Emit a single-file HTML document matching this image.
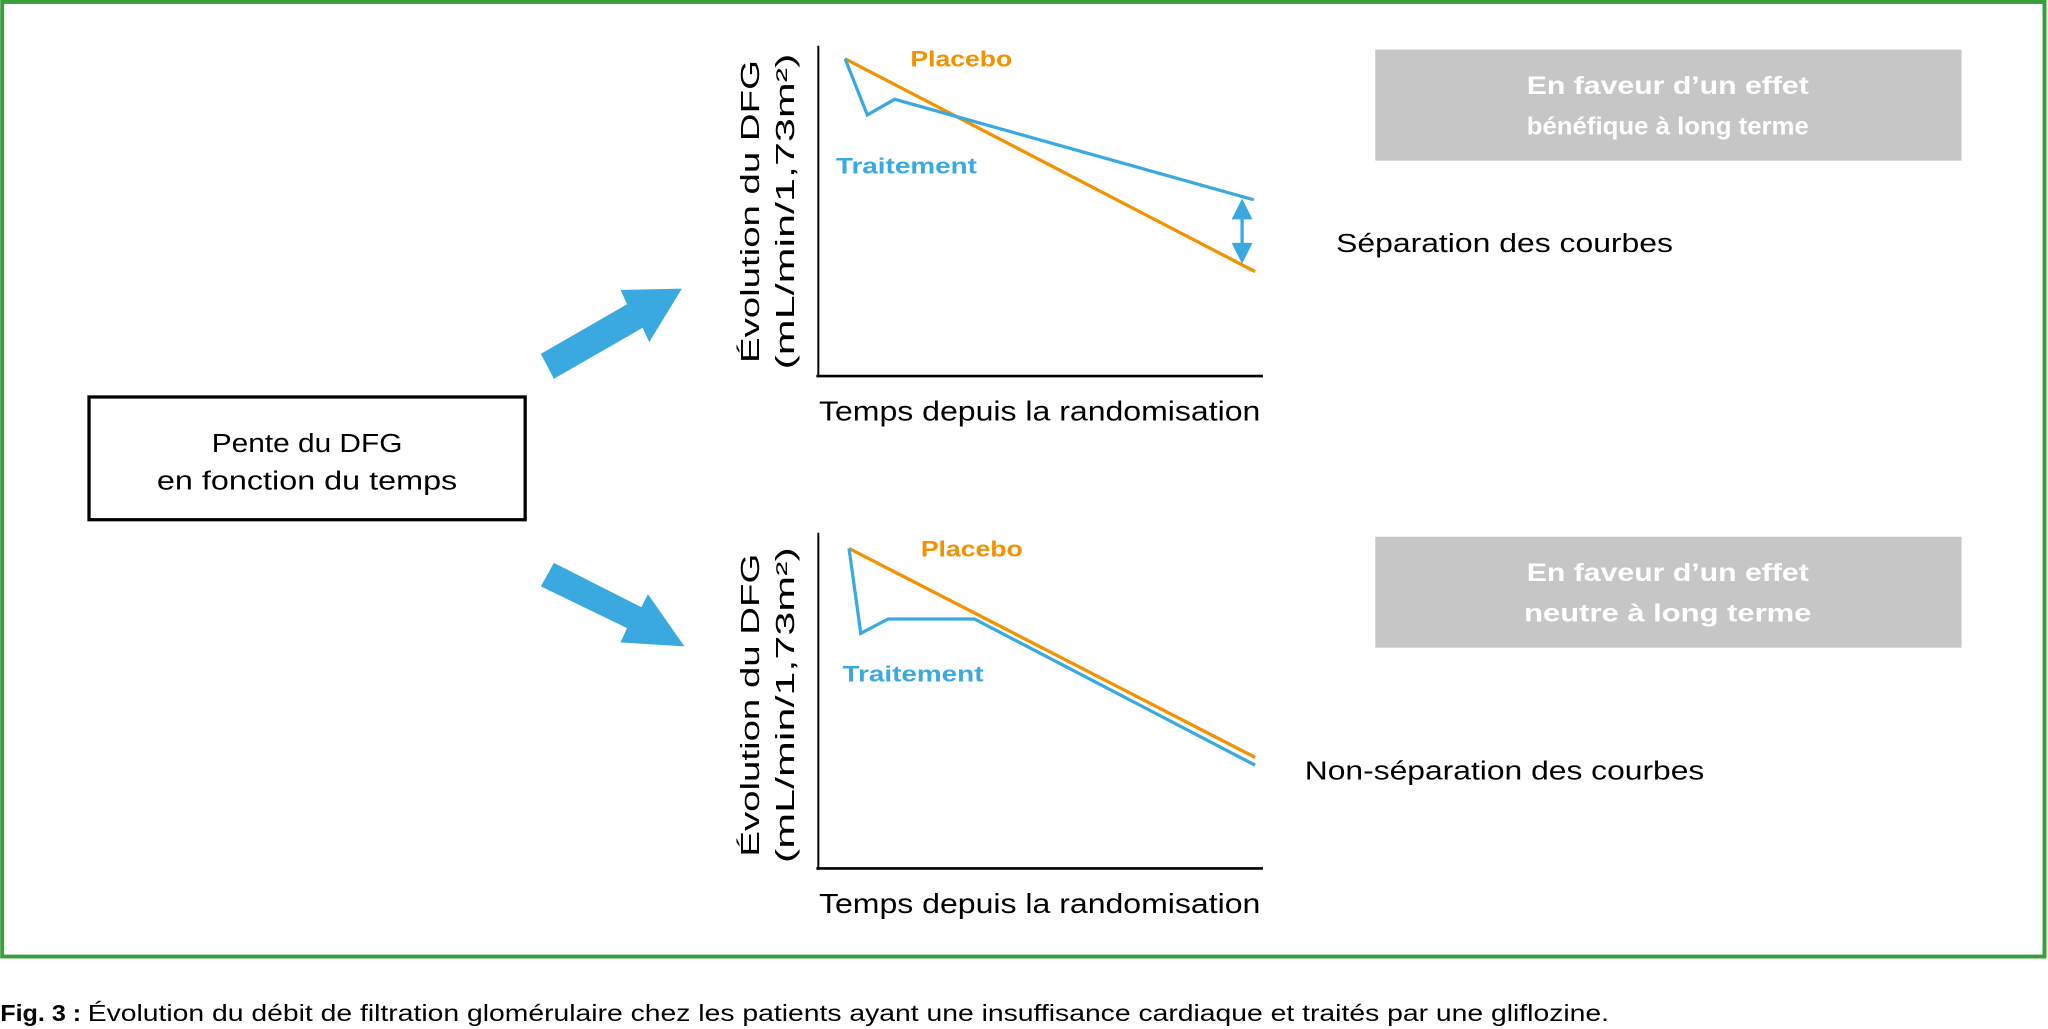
<!DOCTYPE html>
<html><head><meta charset="utf-8"><style>
html,body{margin:0;padding:0;background:#fff;}
svg{display:block;}
text{font-family:"Liberation Sans Narrow","Liberation Sans",sans-serif;}
</style></head><body>
<svg width="2048" height="1029" viewBox="0 0 1568 788" xmlns="http://www.w3.org/2000/svg">
<rect x="1.5" y="1.5" width="1564" height="731" fill="none" stroke="#3a9e3a" stroke-width="3"/>
<rect x="68" y="304" width="334" height="94" fill="#fff" stroke="#000" stroke-width="2.5"/>
<text x="235" y="346" font-size="20" text-anchor="middle" textLength="146" lengthAdjust="spacingAndGlyphs">Pente du DFG</text>
<text x="235" y="375" font-size="20" text-anchor="middle" textLength="230" lengthAdjust="spacingAndGlyphs">en fonction du temps</text>
<polygon points="414,271 480,233 475,222 522,221 497,262 492,251 424,290" fill="#3aa9e0"/>
<polygon points="414,449 480,481 475,492 524,495 496,455 491,465 424,431" fill="#3aa9e0"/>
<line x1="626.5" y1="35" x2="626.5" y2="289" stroke="#000" stroke-width="1.5"/>
<line x1="625" y1="288" x2="967" y2="288" stroke="#000" stroke-width="2"/>
<polyline points="647,45 961,208" fill="none" stroke="#f39200" stroke-width="2.5"/>
<polyline points="647,45 664,88 685,76 960,153" fill="none" stroke="#3aa9e0" stroke-width="2.5"/>
<line x1="951" y1="162" x2="951" y2="193" stroke="#3aa9e0" stroke-width="2.5"/>
<polygon points="943,168 951,152 959,168" fill="#3aa9e0"/>
<polygon points="943,186 951,202 959,186" fill="#3aa9e0"/>
<text x="697" y="51" font-size="17" font-weight="bold" fill="#f39200" textLength="78" lengthAdjust="spacingAndGlyphs">Placebo</text>
<text x="640" y="133" font-size="17" font-weight="bold" fill="#3aa9e0" textLength="108" lengthAdjust="spacingAndGlyphs">Traitement</text>
<text x="796" y="322" font-size="21" text-anchor="middle" textLength="338" lengthAdjust="spacingAndGlyphs">Temps depuis la randomisation</text>
<text transform="translate(581,162) rotate(-90)" font-size="20" text-anchor="middle" font-family="Liberation Sans" textLength="232" lengthAdjust="spacingAndGlyphs">Évolution du DFG</text>
<text transform="translate(608,162) rotate(-90)" font-size="20" text-anchor="middle" font-family="Liberation Sans" textLength="242" lengthAdjust="spacingAndGlyphs">(mL/min/1,73m²)</text>
<rect x="1053" y="38" width="449" height="85" fill="#c6c6c6"/>
<text x="1277" y="72" font-size="19" font-weight="bold" fill="#fff" text-anchor="middle" textLength="216" lengthAdjust="spacingAndGlyphs">En faveur d’un effet</text>
<text x="1277" y="103" font-size="19" font-weight="bold" fill="#fff" text-anchor="middle" textLength="216" lengthAdjust="spacingAndGlyphs">bénéfique à long terme</text>
<text x="1023" y="193" font-size="20" textLength="258" lengthAdjust="spacingAndGlyphs">Séparation des courbes</text>
<line x1="626.5" y1="408" x2="626.5" y2="666" stroke="#000" stroke-width="1.5"/>
<line x1="625" y1="665" x2="967" y2="665" stroke="#000" stroke-width="2"/>
<polyline points="650,420 961,580" fill="none" stroke="#f39200" stroke-width="2.5"/>
<polyline points="650,420 659,485 680,474 746,474 961,586" fill="none" stroke="#3aa9e0" stroke-width="2.5"/>
<text x="705" y="426" font-size="17" font-weight="bold" fill="#f39200" textLength="78" lengthAdjust="spacingAndGlyphs">Placebo</text>
<text x="645" y="522" font-size="17" font-weight="bold" fill="#3aa9e0" textLength="108" lengthAdjust="spacingAndGlyphs">Traitement</text>
<text x="796" y="699" font-size="21" text-anchor="middle" textLength="338" lengthAdjust="spacingAndGlyphs">Temps depuis la randomisation</text>
<text transform="translate(581,540) rotate(-90)" font-size="20" text-anchor="middle" font-family="Liberation Sans" textLength="232" lengthAdjust="spacingAndGlyphs">Évolution du DFG</text>
<text transform="translate(608,540) rotate(-90)" font-size="20" text-anchor="middle" font-family="Liberation Sans" textLength="242" lengthAdjust="spacingAndGlyphs">(mL/min/1,73m²)</text>
<rect x="1053" y="411" width="449" height="85" fill="#c6c6c6"/>
<text x="1277" y="445" font-size="19" font-weight="bold" fill="#fff" text-anchor="middle" textLength="216" lengthAdjust="spacingAndGlyphs">En faveur d’un effet</text>
<text x="1277" y="476" font-size="19" font-weight="bold" fill="#fff" text-anchor="middle" textLength="220" lengthAdjust="spacingAndGlyphs">neutre à long terme</text>
<text x="999" y="597" font-size="20" textLength="306" lengthAdjust="spacingAndGlyphs">Non-séparation des courbes</text>
<text x="0" y="782" font-size="18" font-weight="bold" textLength="62" lengthAdjust="spacingAndGlyphs">Fig. 3 :</text>
<text x="67" y="782" font-size="18" textLength="1165" lengthAdjust="spacingAndGlyphs">Évolution du débit de filtration glomérulaire chez les patients ayant une insuffisance cardiaque et traités par une gliflozine.</text>
</svg>
</body></html>
